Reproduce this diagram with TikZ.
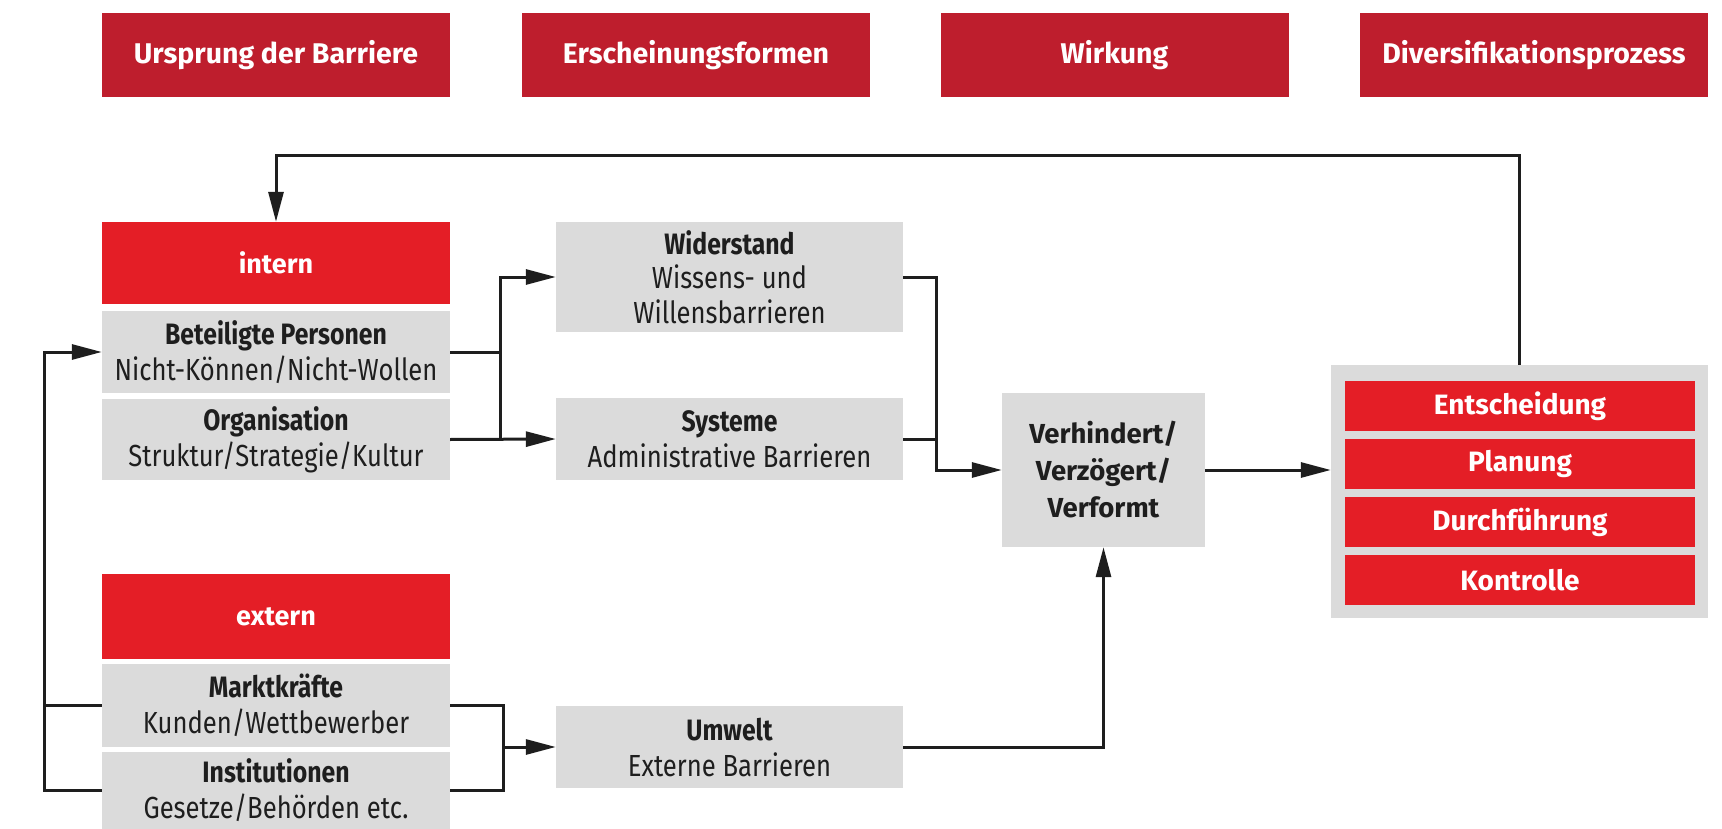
\documentclass[tikz,border=0pt]{standalone}
\usepackage{fontspec}
\setmainfont{Fira Sans}
\newfontfamily\condf[FakeStretch=0.84]{Fira Sans}
\usetikzlibrary{arrows.meta}
\definecolor{hdrred}{HTML}{BE1E2D}
\definecolor{brred}{HTML}{E41E26}
\definecolor{boxgray}{HTML}{DBDBDB}
\definecolor{txt}{HTML}{1E1E1E}
\newcommand{\hd}[1]{{\bfseries\fontsize{29.5}{36}\selectfont #1}}
\tikzset{
  base/.style={inner sep=0pt, align=center},
  hdr/.style={base, fill=hdrred, text=white, font=\bfseries\fontsize{28.5}{34}\selectfont, minimum width=348pt, minimum height=84pt},
  redbox/.style={base, fill=brred, text=white, font=\bfseries\fontsize{27}{33}\selectfont, minimum width=348pt},
  graybox/.style={base, fill=boxgray, text=txt, font=\condf\fontsize{30.5}{36}\selectfont, minimum width=348pt},
  inred/.style={base, fill=brred, text=white, font=\bfseries\fontsize{28}{33}\selectfont, minimum width=350pt, minimum height=50pt},
  conn/.style={draw=txt, line width=3pt},
  arr/.style={conn, -{Triangle[length=30pt,width=15pt]}}
}
\begin{document}
\begin{tikzpicture}[x=1pt,y=-1pt]
\useasboundingbox (0,0) rectangle (1722,829);
% headers
\node[hdr] (h1) at (276,55) {Ursprung der Barriere};
\node[hdr] (h2) at (696,55) {Erscheinungsformen};
\node[hdr] (h3) at (1114.5,55) {Wirkung};
\node[hdr] (h4) at (1534,55) {Diversifikationsprozess};
% left column
\node[redbox, minimum height=82pt] (intern) at (276,263) {intern};
\node[graybox, minimum height=82pt] (bet) at (276,352) {\hd{Beteiligte Personen}\\Nicht-Können/Nicht-Wollen};
\node[graybox, minimum height=81pt] (org) at (276,439.5) {\hd{Organisation}\\Struktur/Strategie/Kultur};
\node[redbox, minimum height=85pt] (extern) at (276,616.5) {extern};
\node[graybox, minimum height=83pt] (markt) at (276,705.5) {\hd{Marktkräfte}\\Kunden/Wettbewerber};
\node[graybox, minimum height=77pt] (inst) at (276,790.5) {\hd{Institutionen}\\Gesetze/Behörden etc.};
% middle column
\node[graybox, font=\condf\fontsize{30.5}{34.5}\selectfont, minimum width=347pt, minimum height=110pt] (wid) at (729.5,277) {\hd{Widerstand}\\Wissens- und\\Willensbarrieren};
\node[graybox, minimum width=347pt, minimum height=82pt] (sys) at (729.5,439) {\hd{Systeme}\\Administrative Barrieren};
\node[graybox, minimum width=347pt, minimum height=82pt] (umw) at (729.5,747) {\hd{Umwelt}\\Externe Barrieren};
\node[graybox, font=\bfseries\fontsize{27.5}{37}\selectfont, minimum width=203pt, minimum height=154pt] (verh) at (1103.5,470) {Verhindert/\\Verzögert/\\Verformt};
% right column
\node[base, fill=boxgray, minimum width=377pt, minimum height=253pt] (outer) at (1519.5,491.5) {};
\node[inred] (e1) at (1520,406) {Entscheidung};
\node[inred] (e2) at (1520,464) {Planung};
\node[inred] (e3) at (1520,522) {Durchführung};
\node[inred] (e4) at (1520,580) {Kontrolle};
% connectors
\coordinate (fb) at (276,156);
\draw[arr] (outer.north) |- (fb) -- (intern.north);
\coordinate (lx) at (44,352);
\draw[conn] (markt.west) -- (markt.west -| lx);
\draw[arr] (inst.west) -| (lx) -- (bet.west);
\coordinate (j1) at (500,0);
\draw[conn] (bet.east) -- (bet.east -| j1);
\draw[arr] (org.east) -- (sys.west);
\draw[arr] (org.east -| j1) |- (wid.west);
\coordinate (j2) at (936,0);
\draw[conn] (sys.east) -- (sys.east -| j2);
\draw[arr] (wid.east) -- (wid.east -| j2) |- (verh.west);
\draw[arr] (verh.east) -- (verh.east -| outer.west);
\draw[arr] (umw.east) -| (verh.south);
\coordinate (j3) at (503,0);
\draw[conn] (markt.east) -- (markt.east -| j3) -- (inst.east -| j3) -- (inst.east);
\draw[arr] (umw.west -| j3) -- (umw.west);
\end{tikzpicture}
\end{document}
